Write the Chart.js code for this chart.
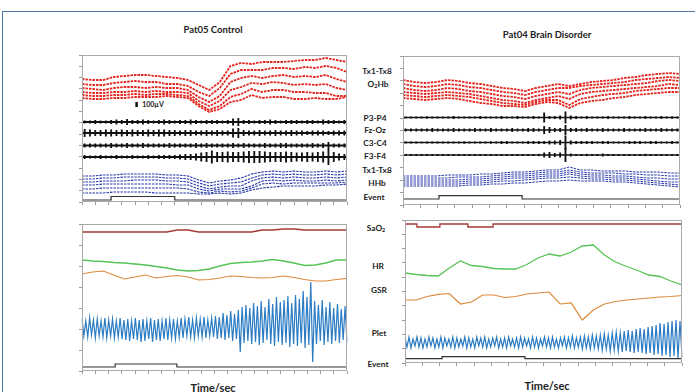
<!DOCTYPE html>
<html>
<head>
<meta charset="utf-8">
<script src="https://cdn.jsdelivr.net/npm/chart.js@4.4.1/dist/chart.umd.min.js"></script>
<style>
  body { margin: 0; background: #fff; }
  #page { position: relative; width: 695px; height: 392px; overflow: hidden; background: #fff; font-family: Lato, "Open Sans", sans-serif; }
  #frame { position: absolute; left: 2px; top: 11px; width: 720px; height: 420px; border-top: 1.5px solid #4b79a6; border-left: 1.5px solid #4b79a6; }
  .box { position: absolute; }
  .lbl { position: absolute; transform: translate(-50%, -50%); font-weight: 700; color: #222; white-space: nowrap; line-height: 1; }
  .title { font-size: 9.5px; }
  .side { font-size: 8.3px; }
  .axis { font-size: 11px; }
  sub { font-size: 0.65em; vertical-align: -0.2em; line-height: 0; }
</style>
</head>
<body>
<div id="page">
  <div id="frame"></div>

  <div class="lbl title" style="left:213px;top:30px">Pat05 Control</div>
  <div class="lbl title" style="left:547px;top:35px">Pat04 Brain Disorder</div>

  <div class="lbl side" style="left:377px;top:71px">Tx1-Tx8</div>
  <div class="lbl side" style="left:378px;top:84px">O<sub>2</sub>Hb</div>
  <div class="lbl side" style="left:375px;top:118px">P3-P4</div>
  <div class="lbl side" style="left:375px;top:130px">Fz-Oz</div>
  <div class="lbl side" style="left:375px;top:143px">C3-C4</div>
  <div class="lbl side" style="left:375px;top:156px">F3-F4</div>
  <div class="lbl side" style="left:377px;top:170px">Tx1-Tx8</div>
  <div class="lbl side" style="left:377px;top:183px">HHb</div>
  <div class="lbl side" style="left:374px;top:197px">Event</div>

  <div class="lbl side" style="left:376px;top:228px">SaO<sub>2</sub></div>
  <div class="lbl side" style="left:378px;top:266px">HR</div>
  <div class="lbl side" style="left:379px;top:290px">GSR</div>
  <div class="lbl side" style="left:379px;top:333px">Plet</div>
  <div class="lbl side" style="left:378px;top:364px">Event</div>

  <div class="lbl side" style="left:153px;top:104px;font-size:7px">100µV</div>

  <div class="lbl axis" style="left:213px;top:387px">Time/sec</div>
  <div class="lbl axis" style="left:547px;top:385px">Time/sec</div>

  <div class="box" style="left:78px;top:53px;width:271px;height:153px"><canvas id="topLeft" width="271" height="153"></canvas></div>
  <div class="box" style="left:399px;top:54px;width:283px;height:155px"><canvas id="topRight" width="283" height="155"></canvas></div>
  <div class="box" style="left:78px;top:222px;width:271px;height:153px"><canvas id="bottomLeft" width="271" height="153"></canvas></div>
  <div class="box" style="left:401px;top:218px;width:283px;height:149px"><canvas id="bottomRight" width="283" height="149"></canvas></div>
</div>

<script>
// sample times (% of record) shared by the slow traces
const sampleTimes = [0, 4, 8, 12, 16, 20, 24, 28, 32, 36, 40, 44, 48, 52, 56, 60, 64, 68, 72, 76, 80, 84, 88, 92, 96, 100];

// ---- Pat05 Control, NIRS / EEG ----
const o2hbTL = [
  [123, 122, 122, 125, 126, 127, 127, 126, 125, 124, 122, 117, 112, 120, 136, 139, 138, 140, 140, 140, 141, 142, 142, 144, 142, 140],
  [118, 117, 117, 119, 120, 121, 120, 120, 118, 118, 116, 110, 106, 114, 128, 132, 132, 132, 134, 134, 133, 135, 134, 136, 134, 130],
  [114, 113, 112, 114, 115, 115, 114, 115, 114, 114, 112, 105, 100, 106, 120, 124, 126, 124, 126, 127, 125, 126, 125, 127, 123, 120],
  [110, 109, 109, 110, 110, 111, 110, 111, 110, 110, 109, 101, 96, 101, 112, 115, 119, 118, 120, 119, 117, 118, 117, 118, 114, 112],
  [107, 106, 106, 107, 107, 108, 107, 108, 108, 107, 106, 98, 92, 96, 105, 108, 113, 110, 112, 112, 110, 110, 109, 109, 106, 106],
  [104, 103, 103, 104, 104, 105, 105, 105, 106, 105, 104, 96, 90, 93, 100, 102, 107, 104, 105, 105, 103, 103, 104, 103, 103, 105]
];
const hhbTL = [
  [26, 26, 27, 27, 28, 28, 28, 28, 27, 27, 26, 22, 19, 21, 22, 24, 28, 30, 31, 30, 31, 30, 30, 31, 30, 31],
  [23, 23, 24, 24, 25, 25, 25, 25, 24, 24, 23, 19, 16, 18, 19, 20, 24, 27, 28, 27, 28, 27, 27, 28, 27, 28],
  [20, 20, 21, 21, 21, 22, 22, 22, 21, 21, 20, 16, 13, 15, 16, 16, 21, 24, 25, 24, 25, 24, 24, 25, 24, 25],
  [17, 17, 18, 18, 18, 18, 18, 18, 18, 17, 17, 13, 11, 13, 13, 13, 16, 21, 22, 21, 22, 21, 21, 22, 21, 22],
  [13, 13, 14, 14, 14, 14, 14, 14, 14, 14, 13, 10, 9, 11, 10, 11, 14, 18, 19, 18, 19, 19, 19, 19, 19, 20],
  [9, 9, 9, 10, 10, 10, 10, 9, 9, 9, 9, 8, 8, 9, 8, 9, 12, 14, 15, 16, 16, 16, 16, 17, 17, 18]
];
const eegBaseTL = [80, 69, 56.5, 45];
// half amplitude of each EEG channel per time bin
const eegTL = [
  [1.5, 1.5, 2, 1.5, 1.5, 2, 2.5, 2, 3, 2,
   2, 2.5, 2, 1.5, 2, 2.5, 2, 1.5, 2, 2,
   2.5, 2, 1.5, 2, 2, 2, 1.5, 2, 3.5, 4,
   2, 2, 1.5, 2, 2, 2.5, 2, 1.5, 2, 2,
   2, 1.5, 2, 2, 1.5, 2.5, 2, 2, 1.5, 2],
  [4, 3.5, 3, 3, 3.5, 3.5, 3, 3.5, 3, 3.5,
   3, 3, 3.5, 3, 3.5, 3.5, 3, 3, 2.5, 3,
   3, 2.5, 2.5, 3, 2.5, 3, 2.5, 2.5, 4.5, 5,
   3, 2.5, 2.5, 3, 2.5, 2.5, 3, 2.5, 2.5, 3,
   2.5, 2.5, 2, 2.5, 2.5, 2.5, 2, 2.5, 2.5, 2.5],
  [2, 2, 2, 2, 2, 2.5, 2, 2, 2.5, 2,
   2, 2.5, 2, 2, 2, 2, 2.5, 2, 2, 2,
   2, 2.5, 2, 2.5, 2, 2, 2, 2, 2.5, 2,
   2.5, 2, 2, 2, 2.5, 2, 2, 2.5, 2.5, 2,
   2, 2, 2, 2.5, 2, 2.5, 3.5, 2, 2, 2],
  [2, 1.5, 1.5, 2, 1.5, 1.5, 2, 1.5, 1.5, 2,
   1.5, 1.5, 2, 1.5, 2, 2, 2, 2, 2.5, 3,
   3, 3.5, 4.5, 5, 6.5, 5, 5, 5.5, 5, 5,
   5.5, 6, 6, 6, 5.5, 5, 5, 5, 5.5, 5,
   4.5, 4.5, 5, 4.5, 5, 5.5, 8, 5, 3.5, 3]
];
const eventTimesTL = [0, 11, 35, 100];
const eventLevelsTL = [2, 5.5, 2, 2];
const scaleBarTimeTL = 20.6;
const scaleBarTL = [95, 100];

// ---- Pat04 Brain Disorder, NIRS / EEG ----
const o2hbTR = [
  [125, 123, 122, 123, 125, 124, 122, 121, 119, 117, 116, 114, 117, 119, 121, 119, 121, 123, 124, 125, 127, 128, 130, 131, 132, 131],
  [121, 119, 118, 119, 121, 120, 118, 117, 115, 113, 112, 110, 113, 115, 117, 117, 119, 120, 121, 122, 123, 125, 126, 127, 128, 127],
  [117, 115, 114, 115, 117, 116, 114, 113, 111, 109, 108, 106, 109, 111, 113, 111, 115, 117, 118, 119, 120, 121, 122, 124, 125, 124],
  [113, 112, 111, 112, 113, 112, 111, 109, 107, 105, 104, 102, 105, 107, 109, 106, 111, 113, 114, 115, 116, 117, 118, 119, 121, 120],
  [110, 109, 108, 109, 110, 109, 108, 106, 104, 102, 101, 100, 103, 105, 105, 100, 106, 108, 110, 111, 112, 114, 115, 116, 117, 117],
  [107, 106, 105, 106, 107, 106, 104, 102, 101, 99, 99, 98, 101, 103, 102, 97, 102, 104, 105, 107, 108, 110, 111, 112, 113, 113]
];
const hhbTR = [
  [29, 29, 29, 29, 30, 30, 30, 31, 31, 32, 33, 33, 34, 35, 35, 38, 35, 35, 34, 34, 34, 33, 33, 33, 32, 32],
  [27, 27, 27, 27, 27, 28, 28, 28, 29, 30, 31, 31, 32, 33, 33, 35, 33, 32, 32, 32, 31, 31, 30, 30, 29, 29],
  [25, 25, 25, 25, 25, 25, 26, 26, 27, 28, 29, 29, 30, 31, 31, 33, 31, 30, 30, 29, 29, 28, 27, 27, 26, 26],
  [23, 23, 23, 23, 23, 23, 24, 24, 25, 26, 27, 27, 28, 29, 29, 31, 29, 28, 28, 27, 27, 26, 25, 24, 23, 23],
  [21, 21, 21, 21, 21, 21, 22, 22, 23, 24, 24, 25, 26, 27, 27, 28, 27, 26, 26, 25, 25, 24, 23, 22, 21, 20],
  [19, 19, 19, 19, 19, 19, 20, 20, 21, 21, 22, 22, 23, 24, 24, 25, 24, 24, 24, 23, 23, 22, 21, 20, 19, 18]
];
const eegBaseTR = [87.5, 75, 62.5, 50];
const eegTR = [
  [1, 1, 1, 1, 1.2, 1, 1, 1, 1, 1.5,
   1, 1, 1, 1, 1.5, 1, 1, 1, 1.5, 1,
   1, 1.5, 1, 1, 1.5, 1, 5, 1.5, 1.5, 2,
   6, 2, 1.5, 1, 1.5, 1, 1, 1, 1.5, 1,
   1, 1, 1.5, 1, 1, 1.5, 1, 1, 1.5, 1,
   1.2, 1],
  [1.5, 1.5, 1.5, 1.5, 1.5, 2, 1.5, 1.5, 1.5, 2,
   1.5, 1.5, 1.5, 2, 1.5, 1.5, 2, 1.5, 1.5, 1.5,
   2, 1.5, 1.5, 2, 2, 1.5, 4, 3, 2, 2,
   5, 2, 2, 1.5, 2, 1.5, 1.5, 2, 1.5, 1.5,
   1.5, 2, 1.5, 1.5, 1.5, 2, 1.5, 1.5, 2, 1.5,
   1.5, 1.5],
  [1, 1, 1, 0.8, 1, 1, 1, 1, 1, 1,
   1, 1.2, 1, 1, 1, 1, 1.2, 1, 1.5, 1.5,
   1, 1, 1, 1.5, 1.5, 1.5, 1.5, 2, 2, 2.5,
   7, 2, 1.5, 1.5, 1.5, 1.5, 1, 1.5, 1.5, 1,
   1, 1, 1.5, 1.5, 1.5, 1, 1.5, 1.5, 1, 1,
   1.5, 1],
  [1, 1, 1, 1, 1, 1, 1, 1, 1, 1,
   1, 1, 1, 1, 1, 1, 1, 1, 1, 1,
   1, 1, 1, 1, 1, 1.2, 2.5, 3, 2, 2.5,
   7, 1.5, 1, 1, 1.2, 1, 1, 1.5, 1, 1,
   1, 1, 1, 1, 1, 1.2, 1, 1, 1, 1,
   1, 1]
];
const eventTimesTR = [0, 13, 43, 100];
const eventLevelsTR = [6, 9.3, 6, 6];

// ---- Pat05 Control, systemic ----
const sao2BL = [139, 139, 139, 139, 139, 139, 139, 139, 139, 141, 141, 139, 139, 139, 139, 139, 139, 141, 141, 142, 142, 141, 141, 141, 141, 141];
const hrBL = [111, 110, 109.5, 108.5, 108, 107, 106, 104.5, 103, 101, 100, 100.5, 102, 105, 107.5, 108.5, 109, 110, 111.5, 110, 108, 105.5, 106, 108, 111, 111];
const gsrBL = [97, 99, 100, 96, 92, 94, 96, 93, 94.5, 95.5, 94, 91, 91.5, 93, 95, 94.5, 93.5, 93, 93.5, 95, 93.5, 91.5, 90, 90, 91.5, 92.7];
// plethysmograph, alternating peak / trough
const pletBL = [
  52, 35, 50, 34, 53, 36, 51, 33, 52, 35, 50, 34, 53, 33, 51, 35, 52, 33, 50, 34,
  53, 32, 51, 31, 52, 30, 50, 32, 53, 31, 51, 29, 52, 30, 50, 32, 53, 29, 51, 31,
  52, 30, 50, 32, 53, 31, 51, 33, 52, 32, 50, 34, 53, 33, 52, 35, 54, 34, 51, 33,
  53, 35, 52, 34, 54, 33, 51, 35, 53, 34, 55, 32, 54, 33, 58, 31, 56, 33, 60, 30,
  57, 32, 61, 19, 64, 28, 66, 30, 63, 27, 68, 29, 65, 26, 70, 28, 64, 31, 72, 27,
  67, 25, 74, 29, 69, 26, 71, 28, 75, 24, 68, 27, 76, 25, 72, 28, 80, 23, 74, 26,
  89, 9, 70, 27, 66, 30, 71, 26, 64, 29, 69, 27, 63, 30, 67, 28, 62, 31, 65, 29
];
const eventTimesBL = [0, 12.5, 35.8, 100];
const eventLevelsBL = [4, 7, 4, 4];

// ---- Pat04 Brain Disorder, systemic ----
const sao2TimesBR = [0, 4.3, 12.6, 22.7, 31.8, 100];
const sao2BR = [139, 136, 139, 136, 139, 139];
const hrBR = [90, 88.5, 87.5, 87, 95, 102, 97.5, 96.5, 94.5, 94, 94, 98.5, 105, 109, 107, 111, 117, 118, 108, 101, 96.5, 92.5, 88, 86.5, 82, 78];
const gsrBR = [63, 63, 66.5, 68.7, 69.5, 59, 61, 68, 68, 65.5, 66.5, 69, 70, 71, 59, 60, 43, 53, 59, 61.5, 63, 64, 65, 66, 66.5, 67.5];
const pletBR = [
  25, 16, 26, 15, 24, 17, 26, 16, 25, 15, 24, 16, 26, 17, 25, 15, 24, 16, 26, 15,
  25, 17, 24, 16, 26, 15, 25, 16, 24, 17, 26, 15, 25, 16, 24, 15, 26, 17, 25, 16,
  26, 15, 24, 16, 25, 17, 26, 15, 24, 16, 25, 15, 26, 17, 24, 16, 25, 15, 26, 16,
  25, 17, 24, 15, 26, 16, 25, 15, 24, 17, 26, 16, 25, 15, 26, 16, 24, 15, 25, 17,
  26, 15, 25, 16, 27, 15, 25, 16, 26, 14, 27, 15, 26, 14, 28, 15, 27, 14, 28, 13,
  29, 14, 28, 12, 30, 13, 31, 12, 30, 11, 32, 12, 33, 11, 32, 10, 34, 11, 35, 10,
  34, 9, 36, 10, 37, 8, 38, 9, 40, 7, 39, 8, 41, 6, 42, 7, 43, 5, 42, 6
];
const eventTimesBR = [0, 13.4, 43.3, 100];
const eventLevelsBR = [4.3, 6.3, 4.3, 4.3];

// colours
const RED = '#e4241e', HHB = '#2436a8', EEG = '#111111';
const SAO2 = '#a53a34', HR = '#55c455', GSR = '#dd8a3c', PLET = '#2c7cc4', EVENT = '#333333';

// box outline round the plot area
const framePlugin = {
  id: 'frame',
  afterDatasetsDraw(chart) {
    const a = chart.chartArea, ctx = chart.ctx;
    ctx.save();
    ctx.strokeStyle = '#aaaaaa';
    ctx.lineWidth = 1;
    ctx.strokeRect(a.left + 0.5, a.top + 0.5, a.right - a.left - 1, a.bottom - a.top - 1);
    ctx.restore();
  }
};

function points(times, values) {
  return times.map((t, i) => ({ x: t, y: values[i] }));
}

function line(times, values, color, width, extra) {
  return Object.assign({
    type: 'line', data: points(times, values), borderColor: color, borderWidth: width,
    pointRadius: 0, tension: 0, xAxisID: 'x', yAxisID: 'y'
  }, extra || {});
}

// NIRS traces are pulse-modulated, a short dash gives them the same broken look
function nirs(values, color, width) {
  return line(sampleTimes, values, color, width, { borderDash: [2.5, 1] });
}

function eegBars(amps, base) {
  return {
    type: 'bar', data: amps.map(a => [base - a, base + a]), backgroundColor: EEG,
    grouped: false, barPercentage: 0.35, categoryPercentage: 1, xAxisID: 'xb', yAxisID: 'y'
  };
}

function pletLine(values) {
  return { type: 'line', data: values, borderColor: PLET, borderWidth: 1.2, pointRadius: 0, tension: 0, xAxisID: 'xp', yAxisID: 'y' };
}

function scales(height, yTicks, xTicks, bins, pletCount) {
  const tickGrid = { drawOnChartArea: false, tickLength: 3, color: '#9a9a9a', lineWidth: 1 };
  const s = {
    x: {
      type: 'linear', min: 0, max: 100, border: { display: false }, grid: tickGrid,
      ticks: { display: false, stepSize: 100 / xTicks }, afterFit: sc => { sc.height = 4; }
    },
    y: {
      type: 'linear', min: 0, max: height, border: { display: false }, grid: tickGrid,
      ticks: { display: false, stepSize: height / yTicks }, afterFit: sc => { sc.width = 4; }
    }
  };
  if (bins) s.xb = { type: 'category', labels: bins, display: false, offset: true };
  if (pletCount) s.xp = { type: 'category', labels: Array.from({ length: pletCount }, (_, i) => i), display: false, offset: false };
  return s;
}

function makeChart(id, datasets, scaleOpts) {
  return new Chart(document.getElementById(id), {
    type: 'line',
    data: { datasets: datasets },
    options: {
      responsive: false,
      animation: false,
      layout: { padding: { top: 2, right: 2, left: 0, bottom: 0 } },
      plugins: { legend: { display: false }, tooltip: { enabled: false } },
      scales: scaleOpts
    },
    plugins: [framePlugin]
  });
}

// top left
const binsTL = eegTL[0].map((_, i) => i);
makeChart('topLeft', [
  ...o2hbTL.map(v => nirs(v, RED, 1.8)),
  ...eegBaseTL.map(b => line([0, 100], [b, b], EEG, 2)),
  ...eegTL.map((a, i) => eegBars(a, eegBaseTL[i])),
  ...hhbTL.map(v => nirs(v, HHB, 1.1)),
  line([scaleBarTimeTL, scaleBarTimeTL], scaleBarTL, '#111', 2.5),
  line(eventTimesTL, eventLevelsTL, EVENT, 1.2, { stepped: true })
], scales(147, 13, 20, binsTL));

// top right
const binsTR = eegTR[0].map((_, i) => i);
makeChart('topRight', [
  ...o2hbTR.map(v => nirs(v, RED, 1.8)),
  ...eegBaseTR.map(b => line([0, 100], [b, b], EEG, 1.6)),
  ...eegTR.map((a, i) => eegBars(a, eegBaseTR[i])),
  ...hhbTR.map(v => nirs(v, HHB, 1)),
  line(eventTimesTR, eventLevelsTR, EVENT, 1.2, { stepped: true })
], scales(149, 12, 16, binsTR));

// bottom left
makeChart('bottomLeft', [
  line(sampleTimes, sao2BL, SAO2, 1.3),
  line(sampleTimes, hrBL, HR, 1.3),
  line(sampleTimes, gsrBL, GSR, 1.2),
  pletLine(pletBL),
  line(eventTimesBL, eventLevelsBL, EVENT, 1.2, { stepped: true })
], scales(147, 7, 20, null, pletBL.length));

// bottom right
makeChart('bottomRight', [
  line(sao2TimesBR, sao2BR, SAO2, 1.3, { stepped: true }),
  line(sampleTimes, hrBR, HR, 1.3),
  line(sampleTimes, gsrBR, GSR, 1.2),
  pletLine(pletBR),
  line(eventTimesBR, eventLevelsBR, EVENT, 1.2, { stepped: true })
], scales(143, 10, 16, null, pletBR.length));
</script>
</body>
</html>
